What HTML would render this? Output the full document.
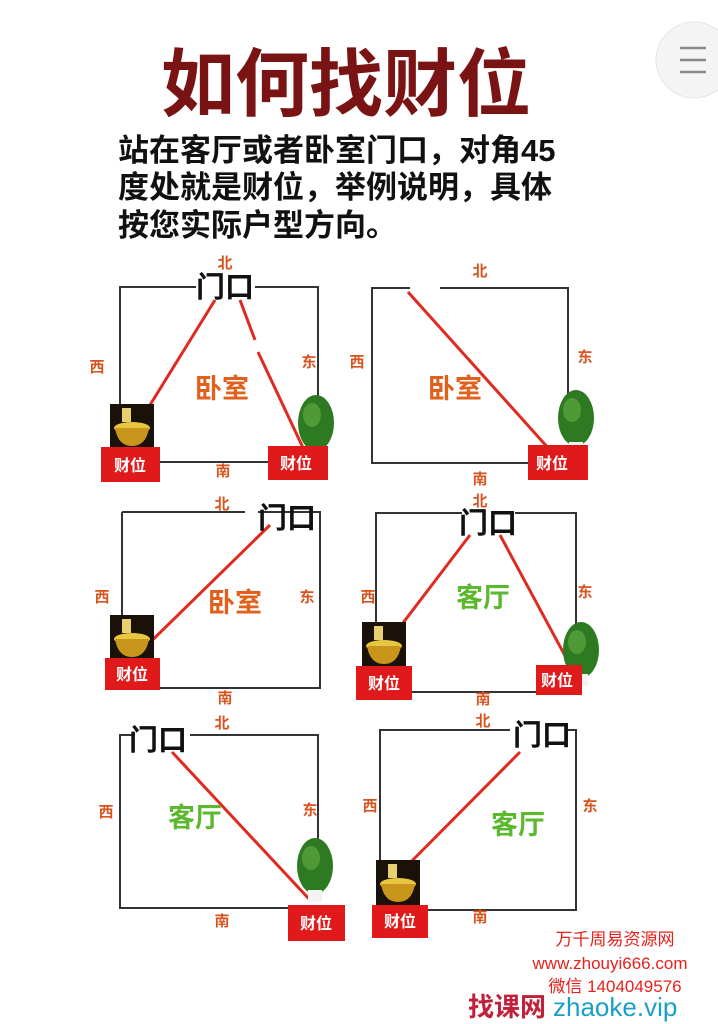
<!DOCTYPE html>
<html><head><meta charset="utf-8"><style>
html,body{margin:0;padding:0;background:#fff;width:718px;height:1024px;overflow:hidden}
svg{display:block}
text{font-family:"Liberation Sans","Noto Sans CJK SC",sans-serif}
.d{font-size:15px;font-weight:bold;fill:#d9531e}
.rm{font-size:27px;font-weight:bold;fill:#e0601c}
.gr{font-size:27px;font-weight:bold;fill:#5cb82e}
.door{font-size:29px;font-weight:bold;fill:#111}
.cw{font-size:16px;font-weight:bold;fill:#fff}
</style></head><body>
<svg width="718" height="1024" viewBox="0 0 718 1024">
<defs>
<g id="pot"><rect x="0" y="0" width="44" height="46" fill="#1a1208"/><ellipse cx="22" cy="24" rx="18" ry="6" fill="#e8c640"/><path d="M5 24 Q8 42 22 42 Q36 42 39 24Z" fill="#c9961c"/><rect x="12" y="4" width="9" height="14" fill="#e8d070"/></g>
<g id="tree"><ellipse cx="19" cy="28" rx="18" ry="28" fill="#2e7a22"/><ellipse cx="15" cy="20" rx="9" ry="12" fill="#4f9a36"/><rect x="12" y="52" width="14" height="12" fill="#f4f4f4"/></g>
</defs>
<text x="346" y="110" text-anchor="middle" style="font-size:74px;font-weight:bold;fill:#7a1414">如何找财位</text>
<g style="font-size:31px;font-weight:bold;fill:#111">
<text x="118" y="161">站在客厅或者卧室门口，对角45</text>
<text x="118" y="198">度处就是财位，举例说明，具体</text>
<text x="118" y="236">按您实际户型方向。</text>
</g>
<circle cx="694" cy="60" r="38" fill="#f4f4f4" stroke="#e4e4e4"/>
<g stroke="#888" stroke-width="2.5"><line x1="680" y1="48" x2="706" y2="48"/><line x1="680" y1="60" x2="706" y2="60"/><line x1="680" y1="72" x2="706" y2="72"/></g>

<g fill="none" stroke="#333" stroke-width="2">
<path d="M196 287 H120 V430 M255 287 H318 V400 M160 462 H268"/>
<path d="M440 288 H568 V395 M410 288 H372 V463 H528"/>
<path d="M258 512 H320 V688 H160 M122 512 H245 M122 512 V620"/>
<path d="M462 513 H376 V640 M515 513 H576 V630 M412 692 H536"/>
<path d="M135 735 H120 V908 H288 M190 735 H318 V845"/>
<path d="M510 730 H380 V865 M568 730 H576 V910 H428"/>
</g>
<g stroke="#e02a20" stroke-width="3" fill="none">
<line x1="215" y1="300" x2="150" y2="405"/><line x1="240" y1="300" x2="255" y2="340"/><line x1="258" y1="352" x2="305" y2="452"/>
<line x1="408" y1="292" x2="550" y2="450"/>
<line x1="270" y1="525" x2="130" y2="662"/>
<line x1="470" y1="535" x2="390" y2="640"/><line x1="500" y1="535" x2="570" y2="665"/>
<line x1="172" y1="752" x2="310" y2="900"/>
<line x1="520" y1="752" x2="395" y2="878"/>
</g>
<text class="door" x="225" y="297" text-anchor="middle">门口</text>
<text class="door" x="287" y="528" text-anchor="middle">门口</text>
<text class="door" x="488" y="533" text-anchor="middle">门口</text>
<text class="door" x="158" y="750" text-anchor="middle">门口</text>
<text class="door" x="542" y="745" text-anchor="middle">门口</text>

<g class="d" text-anchor="middle">
<text x="225" y="268">北</text><text x="97" y="372">西</text><text x="309" y="367">东</text><text x="223" y="476">南</text>
<text x="480" y="276">北</text><text x="357" y="367">西</text><text x="585" y="362">东</text><text x="480" y="484">南</text>
<text x="222" y="509">北</text><text x="102" y="602">西</text><text x="307" y="602">东</text><text x="225" y="703">南</text>
<text x="480" y="506">北</text><text x="368" y="602">西</text><text x="585" y="597">东</text><text x="483" y="704">南</text>
<text x="222" y="728">北</text><text x="106" y="817">西</text><text x="310" y="815">东</text><text x="222" y="926">南</text>
<text x="483" y="726">北</text><text x="370" y="811">西</text><text x="590" y="811">东</text><text x="480" y="922">南</text>
</g>
<text class="rm" x="222" y="398" text-anchor="middle">卧室</text>
<text class="rm" x="455" y="398" text-anchor="middle">卧室</text>
<text class="rm" x="235" y="612" text-anchor="middle">卧室</text>
<text class="gr" x="483" y="607" text-anchor="middle">客厅</text>
<text class="gr" x="195" y="827" text-anchor="middle">客厅</text>
<text class="gr" x="518" y="834" text-anchor="middle">客厅</text>

<use href="#pot" x="110" y="404"/><use href="#tree" x="297" y="395"/>
<use href="#tree" x="557" y="390"/>
<use href="#pot" x="110" y="615"/>
<use href="#pot" x="362" y="622"/><use href="#tree" x="562" y="622"/>
<use href="#tree" x="296" y="838"/>
<use href="#pot" x="376" y="860"/>

<g fill="#e01a1a">
<rect x="101" y="447" width="59" height="35"/><rect x="268" y="446" width="60" height="34"/>
<rect x="528" y="445" width="60" height="35"/>
<rect x="105" y="658" width="55" height="32"/>
<rect x="356" y="666" width="56" height="34"/><rect x="536" y="665" width="46" height="30"/>
<rect x="288" y="905" width="57" height="36"/>
<rect x="372" y="905" width="56" height="33"/>
</g>
<g class="cw" text-anchor="middle">
<text x="130" y="471">财位</text><text x="296" y="469">财位</text><text x="552" y="469">财位</text>
<text x="132" y="680">财位</text><text x="384" y="689">财位</text><text x="557" y="686">财位</text>
<text x="316" y="929">财位</text><text x="400" y="927">财位</text>
</g>

<g text-anchor="middle" style="fill:#e8201c">
<text x="615" y="945" style="font-size:17px">万千周易资源网</text>
<text x="610" y="969" style="font-size:17px">www.zhouyi666.com</text>
<text x="615" y="992" style="font-size:17px">微信 1404049576</text>
</g>
<text x="468" y="1016" style="font-size:26px;font-weight:bold;fill:#c0203a">找课网</text>
<text x="553" y="1016" style="font-size:26px;fill:#1aa0c8">zhaoke.vip</text>
</svg>
</body></html>
